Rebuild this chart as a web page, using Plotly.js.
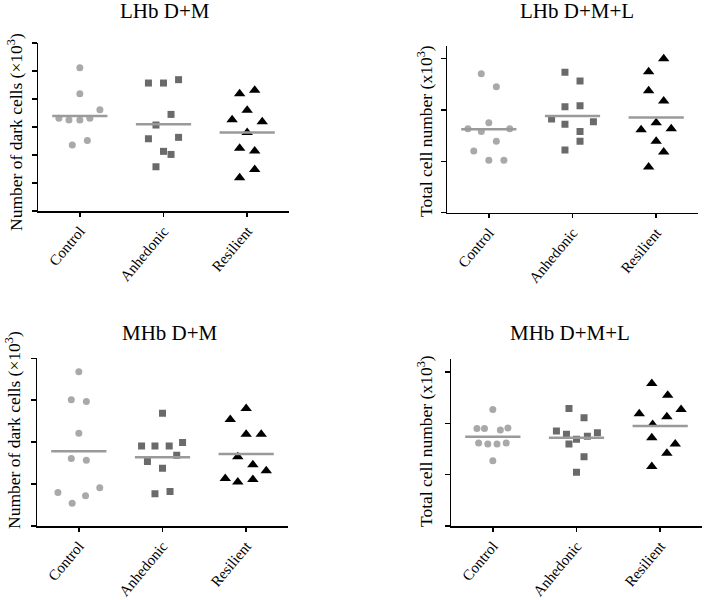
<!DOCTYPE html>
<html>
<head>
<meta charset="utf-8">
<script src="https://cdn.plot.ly/plotly-3.0.1.min.js"></script>
<style>
  body { margin: 0; background: #fff; }
  #chart { width: 705px; height: 600px; }
</style>
</head>
<body>
<div id="chart"></div>
<script>
const GROUPS = ['Control', 'Anhedonic', 'Resilient'];

// LHb D+M (arbitrary units, axis 0-6)
const lhbDM_ctrl    = [5.12, 4.19, 3.62, 3.31, 3.25, 3.25, 3.31, 2.36, 2.52];
const lhbDM_ctrlDx  = [0, 0, 0.24, -0.25, -0.13, 0, 0.12, -0.09, 0.09];
const lhbDM_anh     = [4.57, 4.57, 4.69, 3.45, 3.07, 2.58, 2.63, 2.13, 2.02, 1.58];
const lhbDM_anhDx   = [-0.18, 0, 0.18, 0.09, -0.09, -0.18, 0.18, 0, 0.09, -0.09];
const lhbDM_res     = [4.19, 4.31, 3.60, 3.26, 3.19, 2.80, 2.24, 2.14, 1.48, 1.19];
const lhbDM_resDx   = [-0.09, 0.09, 0, -0.18, 0.18, 0, -0.09, 0.09, 0.09, -0.09];
const lhbDM_means   = [3.39, 3.10, 2.80];

// LHb D+M+L
const lhbDML_ctrl   = [2.70, 2.45, 1.75, 1.63, 1.58, 1.63, 1.39, 1.20, 1.02, 1.02];
const lhbDML_ctrlDx = [-0.09, 0.09, 0, -0.25, -0.09, 0.25, 0.09, -0.18, 0, 0.18];
const lhbDML_anh    = [2.73, 2.56, 2.06, 2.08, 1.82, 1.72, 1.77, 1.58, 1.39, 1.22];
const lhbDML_anhDx  = [-0.09, 0.09, -0.09, 0.09, -0.25, -0.09, 0.25, 0.09, 0.09, -0.09];
const lhbDML_res    = [2.99, 2.74, 2.37, 2.17, 1.61, 1.75, 1.63, 1.39, 1.18, 0.89];
const lhbDML_resDx  = [0.09, -0.09, -0.09, 0.09, -0.18, 0, 0.18, 0, 0.09, -0.09];
const lhbDML_means  = [1.62, 1.88, 1.85];

// MHb D+M
const mhbDM_ctrl    = [3.68, 3.01, 2.97, 2.21, 1.61, 1.57, 0.80, 0.91, 0.72, 0.54];
const mhbDM_ctrlDx  = [0, -0.09, 0.09, 0, -0.09, 0.09, -0.25, 0.25, 0.08, -0.08];
const mhbDM_anh     = [2.69, 1.91, 1.91, 1.91, 1.99, 1.69, 1.54, 1.38, 0.77, 0.82];
const mhbDM_anhDx   = [0, -0.25, -0.09, 0.08, 0.24, 0.17, -0.18, 0, -0.09, 0.09];
const mhbDM_res     = [2.80, 2.54, 2.19, 2.19, 1.65, 1.46, 1.32, 1.13, 1.05, 1.11];
const mhbDM_resDx   = [0, -0.19, 0, 0.18, -0.1, 0.08, 0.24, -0.25, -0.1, 0.08];
const mhbDM_means   = [1.78, 1.64, 1.72];

// MHb D+M+L
const mhbDML_ctrl   = [2.27, 1.90, 1.90, 1.87, 1.91, 1.62, 1.60, 1.60, 1.62, 1.27];
const mhbDML_ctrlDx = [0, -0.19, -0.1, 0.09, 0.18, -0.17, -0.06, 0.05, 0.16, 0];
const mhbDML_anh    = [2.29, 2.11, 1.85, 1.79, 1.82, 1.75, 1.69, 1.60, 1.35, 1.05];
const mhbDML_anhDx  = [-0.09, 0.09, -0.24, -0.12, 0.25, 0.13, 0, -0.09, 0.09, 0];
const mhbDML_res    = [2.78, 2.55, 2.27, 2.19, 2.13, 1.98, 1.72, 1.60, 1.42, 1.16];
const mhbDML_resDx  = [-0.1, 0.09, 0.25, -0.25, 0.08, -0.09, -0.1, 0.18, 0.08, -0.1];
const mhbDML_means  = [1.74, 1.72, 1.95];

const FONT = 'Liberation Serif, Times New Roman, serif';
const STYLES = [
  { symbol: 'circle',      color: '#a9a9a9', size: 7 },
  { symbol: 'square',      color: '#6a6a6a', size: 7 },
  { symbol: 'triangle-up', color: '#000000', size: 10 },
];

function panelTraces(n, groups, means) {
  const xa = n === 1 ? 'x' : 'x' + n;
  const ya = n === 1 ? 'y' : 'y' + n;
  const traces = [];
  groups.forEach(([vals, dx], i) => {
    traces.push({
      type: 'scatter', mode: 'markers',
      x: dx.map(d => i + d), y: vals,
      xaxis: xa, yaxis: ya,
      marker: { symbol: STYLES[i].symbol, color: STYLES[i].color, size: STYLES[i].size },
      hoverinfo: 'y', showlegend: false,
    });
    traces.push({
      type: 'scatter', mode: 'lines',
      x: [i - 0.33, i + 0.33], y: [means[i], means[i]],
      xaxis: xa, yaxis: ya,
      line: { color: '#9a9a9a', width: 2.5 },
      hoverinfo: 'skip', showlegend: false,
    });
  });
  return traces;
}

const traces = [
  ...panelTraces(1, [[lhbDM_ctrl, lhbDM_ctrlDx], [lhbDM_anh, lhbDM_anhDx], [lhbDM_res, lhbDM_resDx]], lhbDM_means),
  ...panelTraces(2, [[lhbDML_ctrl, lhbDML_ctrlDx], [lhbDML_anh, lhbDML_anhDx], [lhbDML_res, lhbDML_resDx]], lhbDML_means),
  ...panelTraces(3, [[mhbDM_ctrl, mhbDM_ctrlDx], [mhbDM_anh, mhbDM_anhDx], [mhbDM_res, mhbDM_resDx]], mhbDM_means),
  ...panelTraces(4, [[mhbDML_ctrl, mhbDML_ctrlDx], [mhbDML_anh, mhbDML_anhDx], [mhbDML_res, mhbDML_resDx]], mhbDML_means),
];

function xAxis(domain, anchor) {
  return {
    domain, anchor, range: [-0.5, 2.5],
    tickmode: 'array', tickvals: [0, 1, 2], ticktext: GROUPS,
    tickangle: -50, ticks: 'outside', ticklen: 4, tickwidth: 1.5, tickcolor: '#000',
    showline: true, linecolor: '#000', linewidth: 1.5,
    showgrid: false, zeroline: false, fixedrange: true,
    tickfont: { family: FONT, size: 15, color: '#000' },
  };
}

// second copy of each x axis, only for the part of the tick above the line
function xAxisInner(overlaying, anchor) {
  return {
    overlaying, anchor, range: [-0.5, 2.5],
    tickmode: 'array', tickvals: [0, 1, 2],
    ticks: 'inside', ticklen: 3, tickwidth: 1.5, tickcolor: '#000',
    showticklabels: false, showline: false,
    showgrid: false, zeroline: false, fixedrange: true,
  };
}

function yAxis(domain, anchor, range) {
  return {
    domain, anchor, range,
    tickmode: 'linear', tick0: 0, dtick: 1,
    ticks: 'outside', ticklen: 5, tickwidth: 1.5, tickcolor: '#000',
    showticklabels: false,
    showline: true, linecolor: '#000', linewidth: 1.5,
    showgrid: false, zeroline: false, fixedrange: true,
  };
}

const W = 705, H = 600;
const px = v => v / W;
const py = v => 1 - v / H;

function title(text, x, y) {
  return { text, xref: 'paper', yref: 'paper', x: px(x), y: py(y),
    xanchor: 'center', yanchor: 'middle', showarrow: false,
    font: { family: FONT, size: 21, color: '#000' } };
}
function yTitle(text, x, y) {
  return { text, xref: 'paper', yref: 'paper', x: px(x), y: py(y),
    xanchor: 'center', yanchor: 'middle', textangle: -90, showarrow: false,
    font: { family: FONT, size: 17.5, color: '#000' } };
}

const layout = {
  width: W, height: H,
  margin: { l: 0, r: 0, t: 0, b: 0 },
  paper_bgcolor: '#fff', plot_bgcolor: 'rgba(0,0,0,0)',
  showlegend: false,
  xaxis:  xAxis([px(38), px(289)], 'y'),
  yaxis:  yAxis([py(211), py(43)], 'x', [0, 6]),
  xaxis2: xAxis([px(447), px(698)], 'y2'),
  yaxis2: yAxis([py(212.7), py(46)], 'x2', [0, 3.24]),
  xaxis3: xAxis([px(37), px(288)], 'y3'),
  yaxis3: yAxis([py(526), py(358.3)], 'x3', [0, 4]),
  xaxis4: xAxis([px(451), px(702)], 'y4'),
  yaxis4: yAxis([py(526), py(359.3)], 'x4', [0, 3.25]),
  xaxis5: xAxisInner('x', 'y'),
  xaxis6: xAxisInner('x2', 'y2'),
  xaxis7: xAxisInner('x3', 'y3'),
  xaxis8: xAxisInner('x4', 'y4'),
  annotations: [
    title('LHb D+M', 165, 11),
    title('LHb D+M+L', 577, 11),
    title('MHb D+M', 170, 333),
    title('MHb D+M+L', 570, 333),
    yTitle('Number of dark cells (×10<sup>3</sup>)', 15, 132),
    yTitle('Total cell number (x10<sup>3</sup>)', 425, 131),
    yTitle('Number of dark cells (×10<sup>3</sup>)', 13, 430),
    yTitle('Total cell number (x10<sup>3</sup>)', 425, 441),
  ],
};

Plotly.newPlot('chart', traces, layout, { displayModeBar: false, staticPlot: true });
</script>
</body>
</html>
